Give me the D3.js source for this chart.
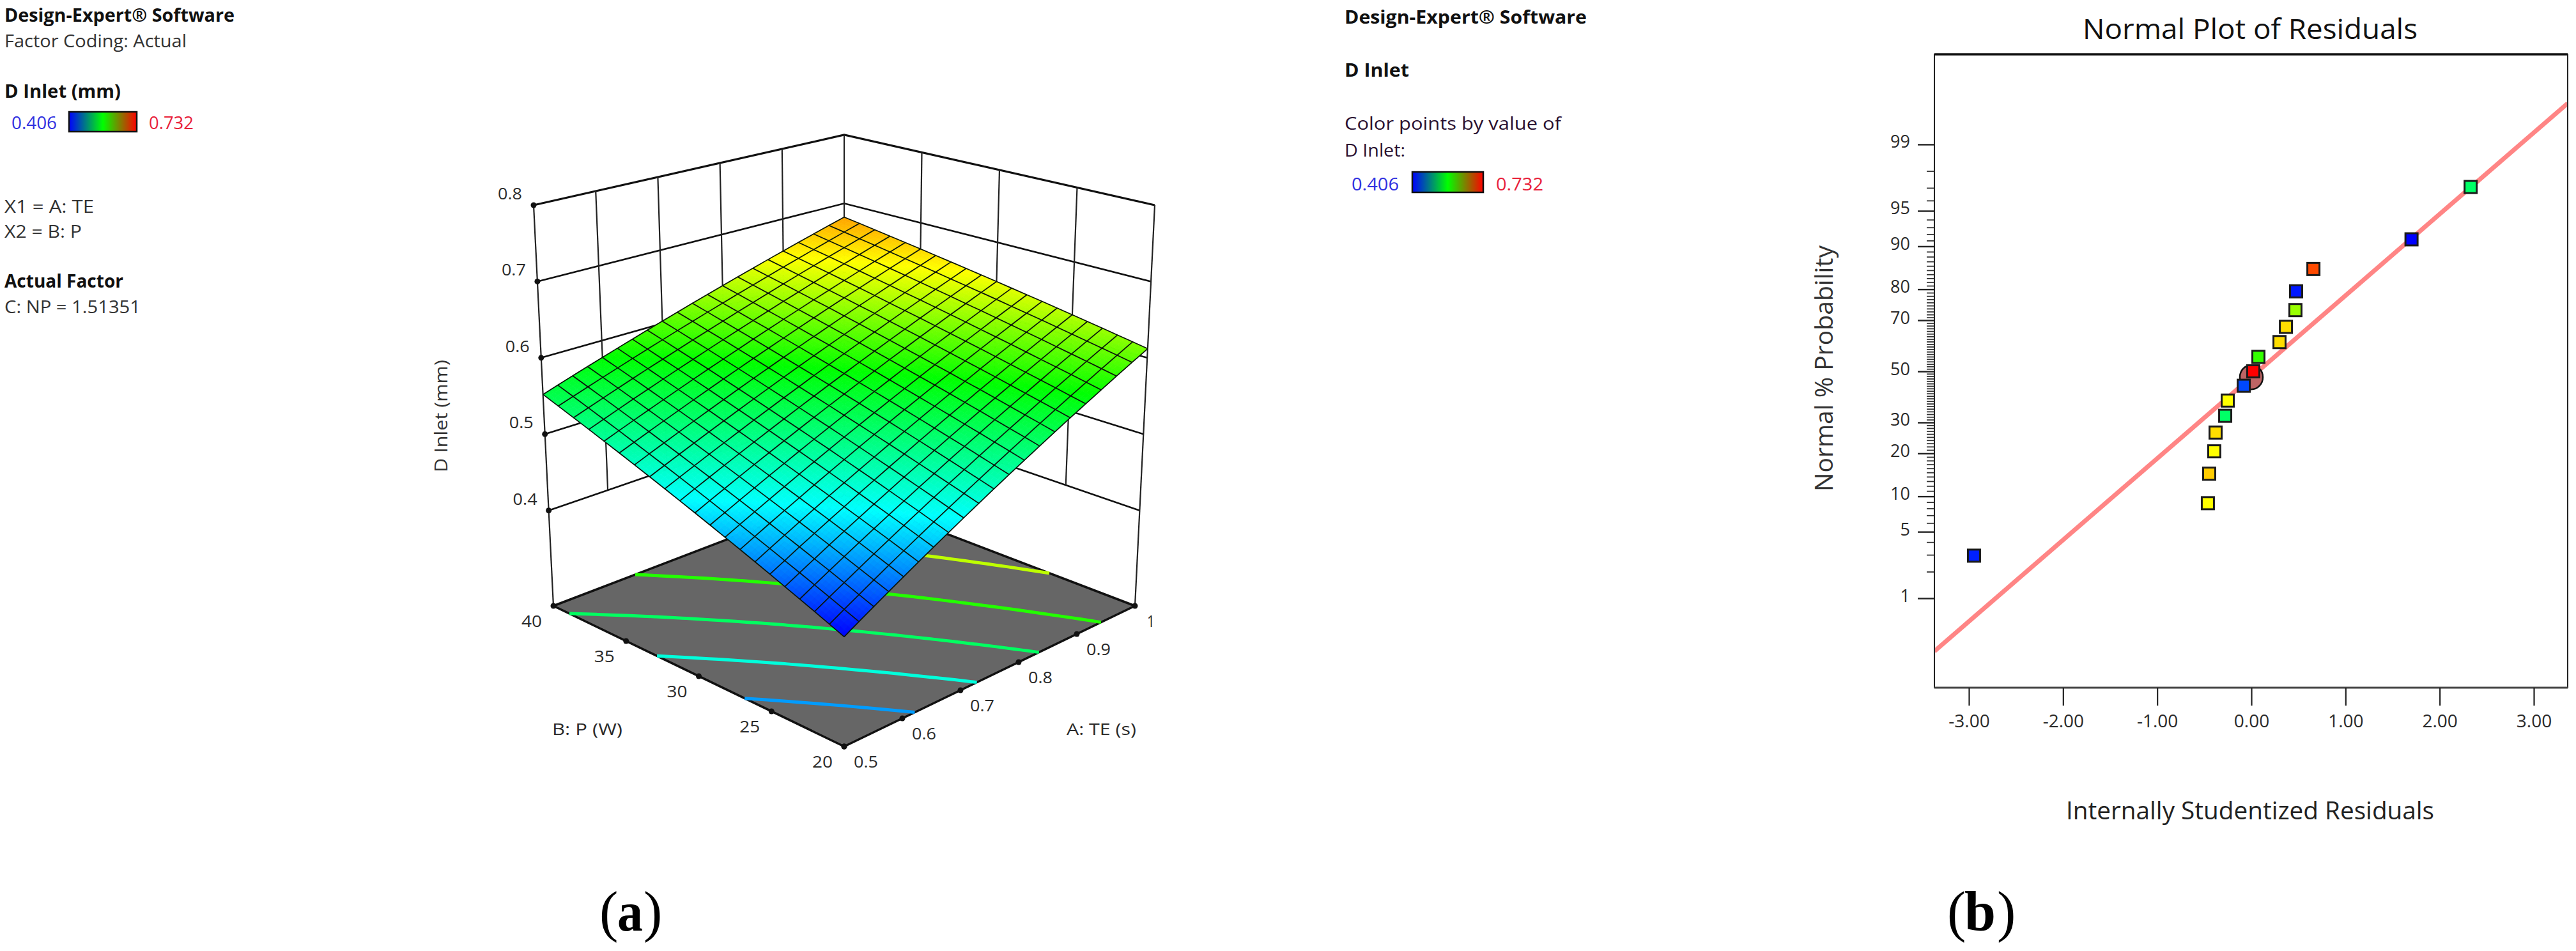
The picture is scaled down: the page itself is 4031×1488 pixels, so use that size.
<!DOCTYPE html>
<html><head><meta charset="utf-8">
<script src="https://cdn.jsdelivr.net/npm/d3@7/dist/d3.min.js"></script>
<style>html,body{margin:0;padding:0;background:#fff}svg{display:block}text{font-family:"Open Sans",sans-serif}</style>
</head><body><svg id="c" width="4031" height="1488"></svg>
<script>
// ---------- panel (a) data ----------
const aTicks=[0.5,0.6,0.7,0.8,0.9,1];
const bTicks=[20,25,30,35,40];
const zTicks=[0.4,0.5,0.6,0.7,0.8];
const contourLevels=[0.456,0.5,0.544,0.588,0.632];
const colorStops=[0.406,0.4875,0.578,0.6505,0.732];
const colorNames=["#0000ff","#00ffff","#00ff00","#ffff00","#ff0000"];
// rows: B = 20 -> 40, columns: A = 0.5 -> 1 (21 x 21 mesh)
const surfaceValues=[
[.406,.4163,.4266,.4369,.4472,.4575,.4678,.4781,.4884,.4987,.509,.5193,.5296,.5399,.5502,.5605,.5708,.5811,.5914,.6017,.612],
[.4133,.4234,.4335,.4436,.4537,.4638,.4739,.484,.4941,.5042,.5143,.5244,.5346,.5447,.5548,.5649,.575,.5851,.5952,.6053,.6154],
[.4206,.4305,.4404,.4503,.4602,.4701,.4801,.49,.4999,.5098,.5197,.5296,.5395,.5494,.5593,.5693,.5792,.5891,.599,.6089,.6188],
[.4279,.4376,.4473,.457,.4668,.4765,.4862,.4959,.5056,.5153,.5251,.5348,.5445,.5542,.5639,.5736,.5833,.5931,.6028,.6125,.6222],
[.4352,.4447,.4542,.4638,.4733,.4828,.4923,.5018,.5114,.5209,.5304,.5399,.5494,.559,.5685,.578,.5875,.597,.6066,.6161,.6256],
[.4425,.4518,.4612,.4705,.4798,.4891,.4985,.5078,.5171,.5264,.5358,.5451,.5544,.5637,.5731,.5824,.5917,.601,.6104,.6197,.629],
[.4498,.4589,.4681,.4772,.4863,.4955,.5046,.5137,.5228,.532,.5411,.5502,.5594,.5685,.5776,.5868,.5959,.605,.6141,.6233,.6324],
[.4571,.466,.475,.4839,.4928,.5018,.5107,.5196,.5286,.5375,.5465,.5554,.5643,.5733,.5822,.5911,.6001,.609,.6179,.6269,.6358],
[.4644,.4731,.4819,.4906,.4993,.5081,.5168,.5256,.5343,.543,.5518,.5605,.5692,.578,.5867,.5955,.6042,.6129,.6217,.6304,.6392],
[.4717,.4802,.4888,.4973,.5059,.5144,.523,.5315,.5401,.5486,.5572,.5657,.5742,.5828,.5913,.5999,.6084,.617,.6255,.6341,.6426],
[.479,.4874,.4957,.5041,.5124,.5208,.5291,.5375,.5458,.5542,.5625,.5709,.5792,.5876,.5959,.6043,.6126,.621,.6293,.6377,.646],
[.4863,.4945,.5026,.5108,.5189,.5271,.5352,.5434,.5515,.5597,.5679,.576,.5842,.5923,.6005,.6086,.6168,.6249,.6331,.6412,.6494],
[.4936,.5016,.5095,.5175,.5254,.5334,.5414,.5493,.5573,.5652,.5732,.5812,.5891,.5971,.605,.613,.621,.6289,.6369,.6448,.6528],
[.5009,.5087,.5164,.5242,.532,.5397,.5475,.5553,.563,.5708,.5786,.5863,.5941,.6018,.6096,.6174,.6251,.6329,.6407,.6484,.6562],
[.5082,.5158,.5233,.5309,.5385,.5461,.5536,.5612,.5688,.5763,.5839,.5915,.599,.6066,.6142,.6218,.6293,.6369,.6445,.652,.6596],
[.5155,.5229,.5303,.5376,.545,.5524,.5598,.5671,.5745,.5819,.5893,.5966,.604,.6114,.6188,.6261,.6335,.6409,.6483,.6556,.663],
[.5228,.53,.5372,.5443,.5515,.5587,.5659,.5731,.5802,.5874,.5946,.6018,.609,.6161,.6233,.6305,.6377,.6449,.652,.6592,.6664],
[.5301,.5371,.5441,.5511,.558,.565,.572,.579,.586,.593,.5999,.6069,.6139,.6209,.6279,.6349,.6419,.6488,.6558,.6628,.6698],
[.5374,.5442,.551,.5578,.5646,.5714,.5781,.5849,.5917,.5985,.6053,.6121,.6189,.6257,.6325,.6393,.646,.6528,.6596,.6664,.6732],
[.5447,.5513,.5579,.5645,.5711,.5777,.5843,.5909,.5975,.6041,.6107,.6172,.6238,.6304,.637,.6436,.6502,.6568,.6634,.67,.6766],
[.552,.5584,.5648,.5712,.5776,.584,.5904,.5968,.6032,.6096,.616,.6224,.6288,.6352,.6416,.648,.6544,.6608,.6672,.6736,.68]
];
// ---------- panel (b) data ----------
const residuals=[-2.946,-0.462,-0.448,-0.394,-0.380,-0.278,-0.251,-0.081,0.020,0.075,0.299,0.367,0.468,0.475,0.659,1.701,2.329];
const probabilities=[2.94,8.82,14.7,20.6,26.5,32.4,38.2,44.1,50,55.9,61.8,67.6,73.5,79.4,85.3,91.2,97.06];
const pointColors=["#0020ff","#ffff00","#ffcc00","#ffff00","#ffdd00","#00ff66","#ffff00","#0048ff","#ff0000","#33ff00","#ffdd00","#ffdd00","#99ff00","#0018ff","#ff4a00","#0000ff","#00ff66"];
const fitResiduals=[-3.367,3.36];
const fitProbabilities=[0.205,99.7];
const highlightResidual=[0.0];
const highlightProbability=[47.6];
const residualTicks=[-3,-2,-1,0,1,2,3];
const probMajor=[1,5,10,20,30,50,70,80,90,95,99];
const probMinor=[2,3,4,6,7,8,9,11,12,13,14,15,16,17,18,19,21,22,23,24,25,26,27,28,29,31,32,33,34,35,36,37,38,39,40,41,42,43,44,45,46,47,48,49,51,52,53,54,55,56,57,58,59,60,61,62,63,64,65,66,67,68,69,71,72,73,74,75,76,77,78,79,81,82,83,84,85,86,87,88,89,91,92,93,94,96,97,98];

const svg=d3.select("#c");
function txt(s,x,y,size,o={}){
  const t=svg.append("text").attr("x",x).attr("y",y).attr("font-size",size)
    .attr("fill",o.fill||"#2a2a2a").attr("text-anchor",o.anchor||"start")
    .attr("font-weight",o.bold?700:400).text(s);
  if(o.width)t.attr("textLength",o.width).attr("lengthAdjust","spacingAndGlyphs");
  if(o.family)t.style("font-family",o.family);
  if(o.rot)t.attr("transform",`rotate(${o.rot} ${x} ${y})`);
  return t;
}
const defs=svg.append("defs");
const lg=defs.append("linearGradient").attr("id","lg");
lg.selectAll("stop").data([["0%","#0000ff"],["50%","#00ff00"],["100%","#ff0000"]]).join("stop")
  .attr("offset",d=>d[0]).attr("stop-color",d=>d[1]);
function legend(x0,w0,rx,ry,rw,rh,x1,w1,base){
  txt("0.406",x0,base,28,{fill:"#3030e0",width:w0});
  svg.append("rect").attr("x",rx).attr("y",ry).attr("width",rw).attr("height",rh)
    .attr("fill","url(#lg)").attr("stroke","#111").attr("stroke-width",2.5);
  txt("0.732",x1,base,28,{fill:"#e8203a",width:w1});
}
// left notes
txt("Design-Expert® Software",7,34,28,{bold:true,width:360,fill:"#111"});
txt("Factor Coding: Actual",7,74,28,{width:285,fill:"#333"});
txt("D Inlet (mm)",7,153,28,{bold:true,width:182,fill:"#111"});
legend(18,71,108,175,106,31,233,70,202);
txt("X1 = A: TE",7,333,28,{width:140,fill:"#333"});
txt("X2 = B: P",7,372,28,{width:121,fill:"#333"});
txt("Actual Factor",7,450,28,{bold:true,width:186,fill:"#111"});
txt("C: NP = 1.51351",7,490,28,{width:213,fill:"#333"});
// middle notes
txt("Design-Expert® Software",2104,37,28,{bold:true,width:379,fill:"#111"});
txt("D Inlet",2104,120,28,{bold:true,width:101,fill:"#111"});
txt("Color points by value of",2104,203,28,{width:339,fill:"#2a1030"});
txt("D Inlet:",2104,245,28,{width:95,fill:"#2a1030"});
legend(2115,74,2210,269,111,32,2341,74,298);

// ---------- 3D box mapping ----------
const uS=d3.scaleLinear([0.5,1],[0,1]), vS=d3.scaleLinear([20,40],[0,1]), tS=d3.scaleLinear([0.275,0.8],[0,1]);
// corner order: [u=0,v=0]=front, [u=1,v=0]=right, [u=0,v=1]=left, [u=1,v=1]=back
const floorQ={f:[1321,1168],r:[1776,948],l:[866,948],b:[1321,774]};
const topQ={f:[1321,480],r:[1807,321],l:[835,321],b:[1321,211]};
const bil=(q,u,v,k)=>(1-u)*(1-v)*q.f[k]+u*(1-v)*q.r[k]+(1-u)*v*q.l[k]+u*v*q.b[k];
function proj(u,v,z){
  const t=tS(z);
  return [0,1].map(k=>bil(floorQ,u,v,k)*(1-t)+bil(topQ,u,v,k)*t);
}
const P=(a,b,z)=>proj(uS(a),vS(b),z);
const pathL=d3.line();
const g=svg.append("g");
const colorZ=d3.scaleLinear(colorStops,colorNames).clamp(true);
// walls
const [zLo,zHi]=d3.extent(zTicks);
zTicks.forEach(z=>{
  const w=z===zHi?3.2:2.6;
  g.append("path").attr("d",pathL([P(0.5,40,z),P(1,40,z),P(1,20,z)])).attr("fill","none").attr("stroke","#111").attr("stroke-width",w);
});
aTicks.slice(1,-1).forEach(a=>g.append("path").attr("d",pathL([P(a,40,zLo),P(a,40,zHi)])).attr("stroke","#222").attr("stroke-width",2.2));
bTicks.slice(1,-1).forEach(b=>g.append("path").attr("d",pathL([P(1,b,zLo),P(1,b,zHi)])).attr("stroke","#222").attr("stroke-width",2.2));
[[0.5,40],[1,40],[1,20]].forEach(([a,b])=>g.append("path").attr("d",pathL([P(a,b,0.275),P(a,b,zHi)])).attr("stroke","#222").attr("stroke-width",2.2));
// floor
g.append("path").attr("d",pathL([P(.5,20,.275),P(1,20,.275),P(1,40,.275),P(.5,40,.275)])+"Z").attr("fill","#666").attr("stroke","#111").attr("stroke-width",3.5).attr("stroke-linejoin","round");
// contours from the mesh
const n=surfaceValues.length-1;
contourLevels.forEach(L=>{
  const pts=[];
  for(let j=0;j<=n;j++)for(let i=0;i<=n;i++){
    const m=surfaceValues[j][i];
    if(i<n){const m2=surfaceValues[j][i+1];if((m-L)*(m2-L)<=0&&m!==m2)pts.push([(i+(L-m)/(m2-m))/n,j/n]);}
    if(j<n){const m2=surfaceValues[j+1][i];if((m-L)*(m2-L)<=0&&m!==m2)pts.push([i/n,(j+(L-m)/(m2-m))/n]);}
  }
  pts.sort((p,q)=>p[0]-q[0]);
  g.append("path").attr("d",pathL(pts.map(p=>proj(p[0],p[1],0.275)))).attr("fill","none").attr("stroke",colorZ(L)).attr("stroke-width",5);
});
// surface: smooth fill per mesh cell, drawn back to front
const sub=4, sg=g.append("g");
const mAt=(u,v)=>{
  const fi=Math.min(n-1,Math.floor(u*n)), fj=Math.min(n-1,Math.floor(v*n)), a=u*n-fi, b=v*n-fj, s=surfaceValues;
  return (1-a)*(1-b)*s[fj][fi]+a*(1-b)*s[fj][fi+1]+(1-a)*b*s[fj+1][fi]+a*b*s[fj+1][fi+1];
};
const N=n*sub;
for(let s=2*N-1;s>=0;s--)for(let i=Math.max(0,s-N+1);i<=Math.min(N-1,s);i++){
  const j=s-i; if(j>=N)continue;
  const u0=i/N,u1=(i+1)/N,v0=j/N,v1=(j+1)/N;
  const c=colorZ(mAt((u0+u1)/2,(v0+v1)/2));
  sg.append("path").attr("d",pathL([[u0,v0],[u1,v0],[u1,v1],[u0,v1]].map(([u,v])=>proj(u,v,mAt(u,v))))+"Z").attr("fill",c).attr("stroke",c).attr("stroke-width",.8);
}
// mesh lines
for(let k=0;k<=n;k++){
  g.append("path").attr("d",pathL(d3.range(n+1).map(i=>proj(i/n,k/n,surfaceValues[k][i])))).attr("fill","none").attr("stroke","#0a140a").attr("stroke-width",1.7);
  g.append("path").attr("d",pathL(d3.range(n+1).map(j=>proj(k/n,j/n,surfaceValues[j][k])))).attr("fill","none").attr("stroke","#0a140a").attr("stroke-width",1.7);
}
// dots + labels
const dot=p=>g.append("circle").attr("cx",p[0]).attr("cy",p[1]).attr("r",4.5).attr("fill","#111");
zTicks.forEach(z=>{const p=P(.5,40,z);dot(p);txt(z.toFixed(1),p[0]-37,p[1]-9,26,{anchor:"middle",width:38});});
aTicks.forEach(a=>{const p=P(a,20,.275);dot(p);txt(String(a),p[0]+(a===1?25:34),p[1]+33,26,{anchor:"middle",width:a===1?12:38});});
bTicks.forEach(b=>{const p=P(.5,b,.275);dot(p);txt(String(b),p[0]-34,p[1]+33,26,{anchor:"middle",width:32});});
txt("D Inlet (mm)",700,739,27,{rot:-90,width:176,anchor:"start",fill:"#333"});
txt("B: P (W)",864,1150,26,{width:110});
txt("A: TE (s)",1669,1150,26,{width:109});
const serif={family:"Liberation Serif",fill:"#000"};
txt("(",938,1456,88,serif);
txt("a",966,1456,88,{...serif,bold:true,width:40});
txt(")",1007,1456,88,serif);

// ---------- panel (b) ----------
const fr={l:3027,r:4018,t:85,b:1076};
const x=d3.scaleLinear([-3,3],[3081,3965]);
const yZ=d3.scaleLinear([-1,1],[581+152.6,581-152.6]);
function qn(pct){ // normal-probability axis transform
  const p=pct/100, q=p<.5?p:1-p, t=Math.sqrt(-2*Math.log(q));
  const z=t-(2.515517+.802853*t+.010328*t*t)/(1+1.432788*t+.189269*t*t+.001308*t*t*t);
  return p<.5?-z:z;
}
const y=p=>yZ(qn(p));
const b=svg.append("g");
// fit line
const clip=defs.append("clipPath").attr("id","fr").append("rect").attr("x",fr.l).attr("y",fr.t).attr("width",fr.r-fr.l).attr("height",fr.b-fr.t);
b.append("path").attr("clip-path","url(#fr)").attr("d",pathL(fitResiduals.map((r,i)=>[x(r),y(fitProbabilities[i])]))).attr("stroke","#ff8585").attr("stroke-width",7).attr("fill","none");
// highlight
b.selectAll("ellipse").data(highlightResidual).join("ellipse").attr("cx",d=>x(d)).attr("cy",(d,i)=>y(highlightProbability[i])).attr("rx",18).attr("ry",19).attr("fill","#bd6464").attr("stroke","#111").attr("stroke-width",2.5);
// points
b.selectAll("rect.pt").data(residuals).join("rect").attr("class","pt")
  .attr("x",d=>x(d)-9.5).attr("y",(d,i)=>y(probabilities[i])-9.5).attr("width",19).attr("height",19)
  .attr("fill",(d,i)=>pointColors[i]).attr("stroke","#1a1a1a").attr("stroke-width",3);
// frame
b.append("path").attr("d",`M${fr.l},${fr.b}V${fr.t}H${fr.r}V${fr.b}Z`).attr("fill","none").attr("stroke","#222").attr("stroke-width",2);
b.append("path").attr("d",`M${fr.l},${fr.t}H${fr.r}`).attr("stroke","#111").attr("stroke-width",3.5);
b.append("path").attr("d",`M${fr.l},${fr.b}H${fr.r}`).attr("stroke","#444").attr("stroke-width",3);
// axes
const xAx=b.append("g").attr("transform",`translate(0,${fr.b})`).call(d3.axisBottom(x).tickValues(residualTicks).tickSize(28).tickFormat(d=>d.toFixed(2)));
xAx.select(".domain").remove();
xAx.selectAll("line").attr("stroke","#222").attr("stroke-width",2.2);
xAx.selectAll("text").attr("font-size",28).attr("fill","#2a2a2a").attr("y",42).attr("dy","0.72em").attr("font-family","Open Sans");
const labelOf=new Map(probMajor.map(p=>[qn(p),String(p)]));
const yMaj=b.append("g").attr("transform",`translate(${fr.l},0)`).call(d3.axisLeft(yZ).tickValues(probMajor.map(qn)).tickSize(26).tickFormat(d=>labelOf.get(d)));
yMaj.select(".domain").remove();
yMaj.selectAll("line").attr("stroke","#222").attr("stroke-width",2.4);
yMaj.selectAll("text").attr("font-size",27).attr("fill","#2a2a2a").attr("x",-38).attr("dy",5).attr("font-family","Open Sans");
const yMin=b.append("g").attr("transform",`translate(${fr.l},0)`).call(d3.axisLeft(yZ).tickValues(probMinor.map(qn)).tickSize(12).tickFormat(""));
yMin.select(".domain").remove();
yMin.selectAll("line").attr("stroke","#333").attr("stroke-width",1.8);
txt("Normal Plot of Residuals",3259,61,44,{width:524,fill:"#111"});
txt("Internally Studentized Residuals",3233,1282,38,{width:576,fill:"#222"});
txt("Normal % Probability",2868,769,38,{rot:-90,width:385,fill:"#333"});
txt("(",3047,1456,88,serif);
txt("b",3074,1456,88,{...serif,bold:true,width:49});
txt(")",3125,1456,88,serif);
</script></body></html>
